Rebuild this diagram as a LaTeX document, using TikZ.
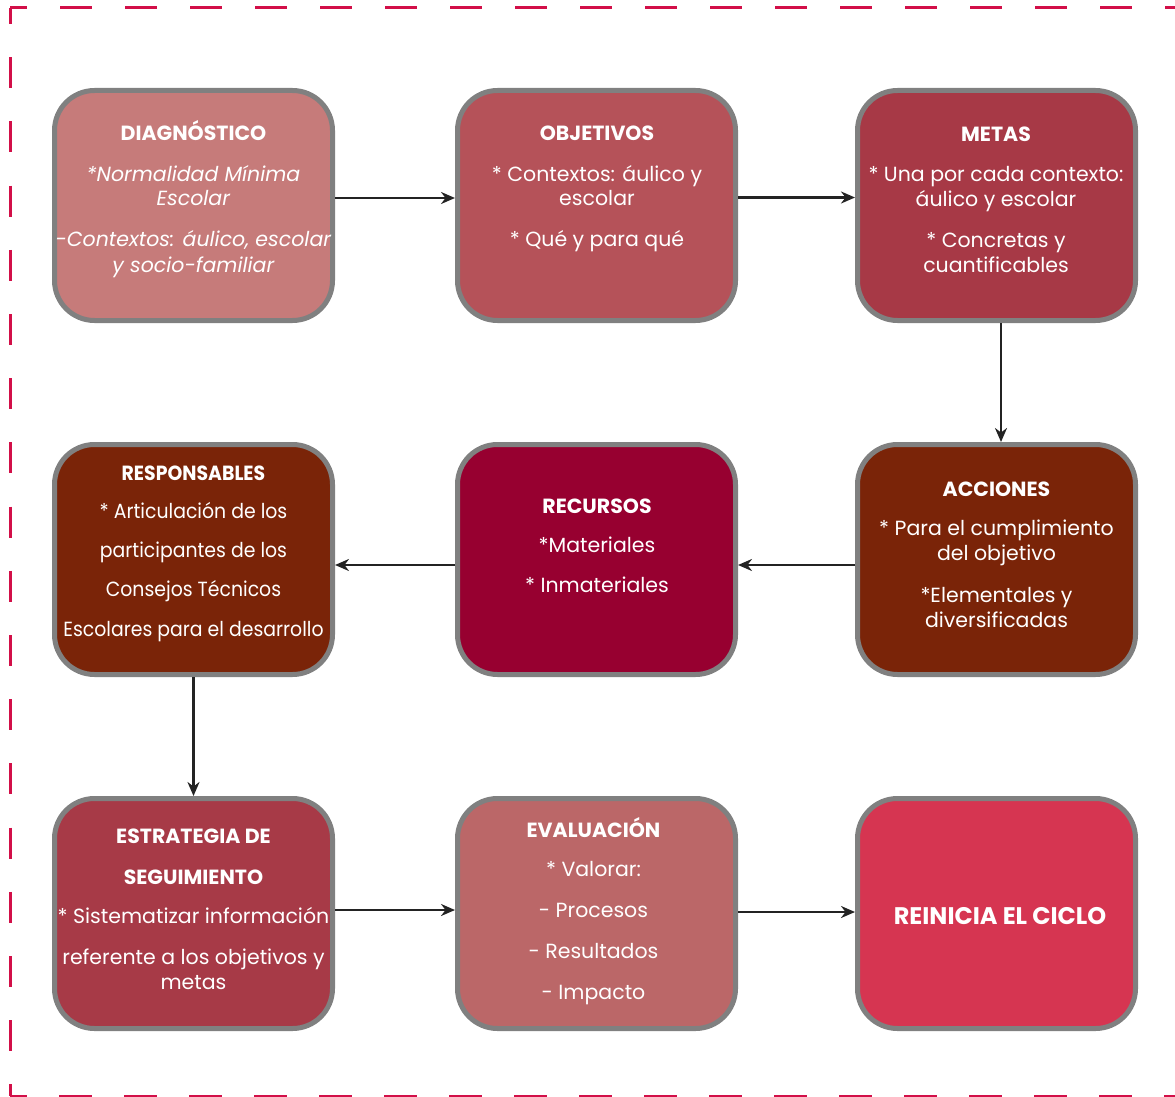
\documentclass[tikz,border=0pt]{standalone}
\usepackage{fontspec}
\setmainfont{Poppins}
\newfontfamily\condfont[FakeStretch=0.92]{Poppins}
\usetikzlibrary{arrows.meta}
\definecolor{framec}{RGB}{210,15,72}
\definecolor{boxgray}{RGB}{128,128,128}
\definecolor{arrowc}{RGB}{35,35,35}
\definecolor{cdiag}{RGB}{198,123,122}
\definecolor{cobj}{RGB}{181,82,89}
\definecolor{cmetas}{RGB}{167,57,70}
\definecolor{cbrown}{RGB}{122,36,8}
\definecolor{crec}{RGB}{151,0,48}
\definecolor{cestr}{RGB}{167,58,71}
\definecolor{ceval}{RGB}{187,103,104}
\definecolor{crein}{RGB}{214,53,81}
\newcommand{\boxtitle}[1]{\textbf{#1}}
\setlength{\tabcolsep}{0pt}
\renewcommand{\arraystretch}{1}
\tikzset{
  box/.style={draw=boxgray, line width=5pt, rounded corners=40pt,
    minimum width=278pt, minimum height=230pt, inner sep=0pt},
  txt/.style={anchor=base, text=white, inner sep=0pt,
    font=\fontsize{20.5}{25}\selectfont},
  arr/.style={draw=arrowc, line width=2.5pt, -{Stealth[length=14pt,width=12pt]}},
  frameline/.style={draw=framec, line width=3pt}
}
\begin{document}
\begin{tikzpicture}[x=1pt,y=-1pt]
\useasboundingbox (0,0) rectangle (1175,1097);
% frame
\draw[frameline, dash pattern=on 32pt off 33pt, dash phase=15pt] (10,8) -- (1190,8);
\draw[frameline, dash pattern=on 31pt off 33.2pt, dash phase=15pt] (10,8) -- (10,1096);
\draw[frameline, dash pattern=on 33pt off 32pt, dash phase=16pt] (10,1096) -- (1190,1096);
% boxes
\node[box, fill=cdiag]  (d1) at (193.5,205.5) {};
\node[box, fill=cobj]   (d2) at (596.5,205.5) {};
\node[box, fill=cmetas] (d3) at (996.5,205.5) {};
\node[box, fill=cbrown] (d4) at (193.5,559.5) {};
\node[box, fill=crec]   (d5) at (596.5,559.5) {};
\node[box, fill=cbrown] (d6) at (996.5,559.5) {};
\node[box, fill=cestr]  (d7) at (193.5,913.5) {};
\node[box, fill=ceval]  (d8) at (596.5,913.5) {};
\node[box, fill=crein]  (d9) at (996.5,913.5) {};
% texts
\node[txt] (t1) at (193.5,141) {\begin{tabular}[t]{c}
\boxtitle{DIAGNÓSTICO}\\[15pt]
\textit{*Normalidad Mínima}\\
\textit{Escolar}\\[16pt]
\textit{-Contextos: áulico, escolar}\\
\textit{y socio-familiar}
\end{tabular}};
\node[txt] (t2) at (597,141) {\begin{tabular}[t]{c}
\boxtitle{OBJETIVOS}\\[15pt]
* Contextos: áulico y\\
escolar\\[15pt]
* Qué y para qué
\end{tabular}};
\node[txt] (t3) at (996,142) {\begin{tabular}[t]{c}
\boxtitle{METAS}\\[15pt]
* Una por cada contexto:\\
áulico y escolar\\[16pt]
* Concretas y\\
cuantificables
\end{tabular}};
\node[txt] (t4) at (193.5,480) {\condfont\begin{tabular}[t]{c}
\boxtitle{RESPONSABLES}\\[13pt]
* Articulación de los\\[14pt]
participantes de los\\[14pt]
Consejos Técnicos\\[15pt]
Escolares para el desarrollo
\end{tabular}};
\node[txt] (t5) at (597,513) {\begin{tabular}[t]{c}
\boxtitle{RECURSOS}\\[14pt]
*Materiales\\[15pt]
* Inmateriales
\end{tabular}};
\node[txt] (t6) at (996.5,496) {\begin{tabular}[t]{c}
\boxtitle{ACCIONES}\\[14pt]
* Para el cumplimiento\\
del objetivo\\[17pt]
*Elementales y\\
diversificadas
\end{tabular}};
\node[txt] (t7) at (193.5,843) {\begin{tabular}[t]{c}
\boxtitle{ESTRATEGIA DE}\\[16pt]
\boxtitle{SEGUIMIENTO}\\[14pt]
* Sistematizar información\\[16pt]
referente a los objetivos y\\
metas
\end{tabular}};
\node[txt] (t8) at (593.5,837) {\begin{tabular}[t]{c}
\boxtitle{EVALUACIÓN}\\[14pt]
* Valorar:\\[16pt]
- Procesos\\[16pt]
- Resultados\\[16pt]
- Impacto
\end{tabular}};
\node[txt, font=\fontsize{24}{28}\selectfont] (t9) at (1000,924) {\boxtitle{REINICIA EL CICLO}};
% connectors
\draw[arr] ([yshift=7.5pt]d1.east) -- ([yshift=7.5pt]d2.west);
\draw[arr] ([yshift=8pt]d2.east) -- ([yshift=8pt]d3.west);
\draw[arr] ([xshift=4.5pt]d3.south) -- ([xshift=4.5pt]d6.north);
\draw[arr] ([yshift=-5.5pt]d6.west) -- ([yshift=-5.5pt]d5.east);
\draw[arr] ([yshift=-5.5pt]d5.west) -- ([yshift=-5.5pt]d4.east);
\draw[arr] (d4.south) -- (d7.north);
\draw[arr] ([yshift=3.5pt]d7.east) -- ([yshift=3.5pt]d8.west);
\draw[arr] ([yshift=1.5pt]d8.east) -- ([yshift=1.5pt]d9.west);
\end{tikzpicture}
\end{document}
